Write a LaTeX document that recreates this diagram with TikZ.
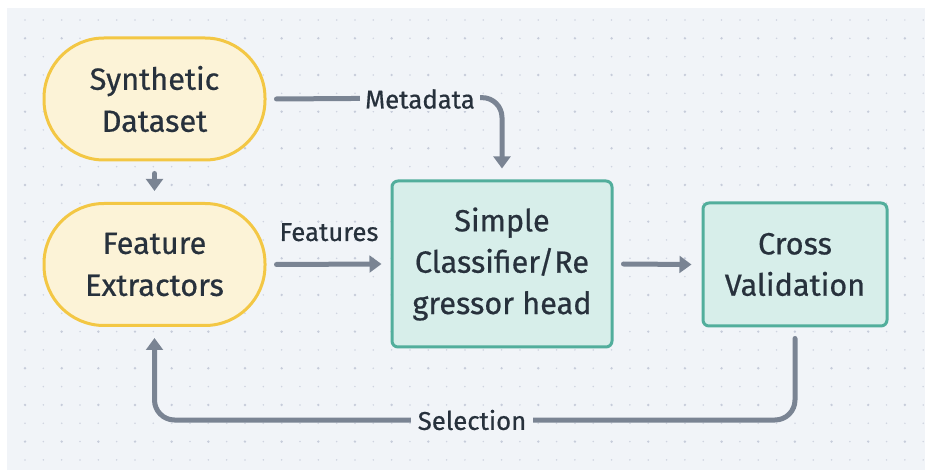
\documentclass[tikz,border=0pt]{standalone}
\usepackage{fontspec}
\setmainfont{Fira Sans}[UprightFeatures={FakeBold=0.6}]
\usetikzlibrary{arrows.meta,calc}
\definecolor{bgc}{HTML}{F1F4F8}
\definecolor{dotc}{HTML}{C6CCDA}
\definecolor{txtc}{HTML}{27313C}
\definecolor{arrc}{HTML}{7A8493}
\definecolor{yfill}{HTML}{FCF3D7}
\definecolor{ydraw}{HTML}{F3C744}
\definecolor{tfill}{HTML}{D7EEEA}
\definecolor{tdraw}{HTML}{52AE9C}
\tikzset{
  stadium/.style={draw=ydraw, fill=yfill, line width=2.25pt, rounded corners=45pt,
    minimum width=165.75pt, minimum height=91.5pt, inner sep=0pt, align=center,
    text=txtc, font=\fontsize{23}{31.5}\selectfont},
  procbox/.style={draw=tdraw, fill=tfill, line width=2.25pt, rounded corners=4.5pt,
    inner sep=0pt, align=center, text=txtc, font=\fontsize{23}{31}\selectfont},
  conn/.style={draw=arrc, line width=3.75pt, line cap=round, rounded corners=15pt,
    -{Triangle[length=9pt,width=12.5pt]}},
  lbl/.style={text=txtc, font=\fontsize{19.3}{21}\selectfont, inner sep=2pt},
}
\begin{document}
\begin{tikzpicture}[x=0.75pt,y=-0.75pt]
\useasboundingbox (0,0) rectangle (925,470);
\fill[white] (0,0) rectangle (925,470);
\fill[bgc] (7,8) rectangle (925,470);
\foreach \i in {1,...,50}{
  \foreach \j in {1,...,25}{
    \pgfmathsetmacro{\xx}{6.7+18.33*\i}
    \pgfmathsetmacro{\yy}{1.67+18.33*\j}
    \pgfmathtruncatemacro{\big}{(mod(\i,2)==1 && mod(\j,2)==0) ? 1 : 0}
    \ifnum\big=1
      \fill[dotc] (\xx,\yy) circle (1.0pt);
    \else
      \fill[dotc!85] (\xx,\yy) circle (0.65pt);
    \fi
  }
}
\node[stadium] (syn) at (154.5,99) {Synthetic\\Dataset};
\node[stadium] (feat) at (154.5,264.5) {Feature\\Extractors};
\node[procbox, minimum width=165pt, minimum height=124.5pt] (cls) at (502,264) {Simple\\Classifier/Re\\gressor head};
\node[procbox, minimum width=138pt, minimum height=92.25pt] (cv) at (795,264.5) {Cross\\Validation};

\coordinate (m0) at ($(syn.east)+(10,0)$);
\coordinate (m1) at ($(cls.north)+(0,-82)$);
\coordinate (m2) at ($(cls.north)+(0,-11)$);
\draw[conn] (m0) -- (m1) -- (m2);
\node[lbl, fill=bgc, inner xsep=4pt] (mdl) at (420,99) {Metadata};

\draw[conn] ($(syn.south)+(0,12)$) -- ($(feat.north)+(0,-11)$);

\draw[conn] ($(feat.east)+(10,0)$) -- node[lbl, midway, yshift=24pt] (fl) {Features} ($(cls.west)+(-9,0)$);

\draw[conn] ($(cls.east)+(10,0)$) -- ($(cv.west)+(-10,0)$);

\coordinate (s0) at ($(cv.south)+(0,11)$);
\coordinate (s1) at (cv.south |- 0,420);
\coordinate (s2) at (feat.south |- 0,420);
\coordinate (s3) at ($(feat.south)+(0,11)$);
\draw[conn] (s0) -- (s1) -- (s2) -- (s3);
\node[lbl, fill=bgc, inner xsep=5pt] (sel) at (472,420) {Selection};
\end{tikzpicture}
\end{document}
